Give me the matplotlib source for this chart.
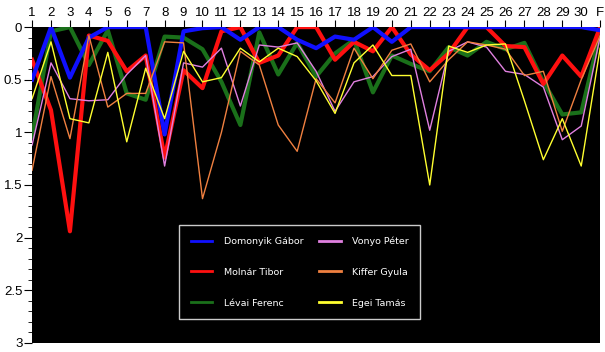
import numpy as np
import matplotlib.pyplot as plt
from matplotlib.ticker import MultipleLocator, FormatStrFormatter

rounds = [str(i) for i in range(1, 31)] + ['F']

domonyik = [0.5, 0, 0.48, 0.1, 0, 0, 0, 1.02, 0.04, 0.01, 0, 0.12, 0, 0, 0.12, 0.2,
            0.09, 0.12, 0, 0.14, 0, 0, 0, 0, 0, 0, 0, 0, 0, 0, 0.03]
molnar = [0.31, 0.79, 1.94, 0.08, 0.13, 0.42, 0.27, 1.24, 0.41, 0.58, 0.04, 0.0, 0.34, 0.27,
          0, 0, 0.31, 0.14, 0.23, 0, 0.26, 0.41, 0.25, 0, 0, 0.18, 0.19, 0.54, 0.27, 0.47, 0]
levai = [1.04, 0.04, 0.0, 0.36, 0.03, 0.63, 0.69, 0.09, 0.1, 0.21, 0.52, 0.93, 0.05, 0.45,
         0.15, 0.47, 0.25, 0.12, 0.62, 0.27, 0.35, 0.42, 0.19, 0.27, 0.14, 0.21, 0.15, 0.52,
         0.83, 0.81, 0.06]
vonyo = [1.12, 0.34, 0.68, 0.7, 0.69, 0.45, 0.27, 1.32, 0.34, 0.38, 0.2, 0.75, 0.17, 0.19,
         0.15, 0.42, 0.8, 0.52, 0.47, 0.28, 0.21, 0.98, 0.23, 0.14, 0.19, 0.42, 0.45, 0.57,
         1.07, 0.94, 0.09]
kiffer = [1.36, 0.47, 1.06, 0.08, 0.76, 0.63, 0.63, 0.14, 0.15, 1.63, 1.0, 0.23, 0.36, 0.93,
          1.18, 0.49, 0.72, 0.2, 0.49, 0.22, 0.16, 0.52, 0.31, 0.14, 0.17, 0.21, 0.46, 0.42,
          0.99, 0.5, 0.08]
egei = [0.68, 0.14, 0.87, 0.91, 0.24, 1.09, 0.39, 0.87, 0.23, 0.52, 0.48, 0.2, 0.33, 0.2,
        0.28, 0.51, 0.82, 0.34, 0.17, 0.46, 0.46, 1.5, 0.18, 0.24, 0.17, 0.16, 0.7, 1.26,
        0.87, 1.32, 0.2]

x = np.arange(1, len(rounds) + 1)

fig = plt.figure(figsize=(6.05, 3.52), dpi=100)
ax = fig.add_axes([0.053, 0.026, 0.939, 0.897])
ax.set_facecolor('black')

ax.plot(x, levai, color='#1a701a', lw=3, label='Lévai Ferenc')
ax.plot(x, molnar, color='#ff1010', lw=3, label='Molnár Tibor')
ax.plot(x, domonyik, color='#1010ff', lw=3, label='Domonyik Gábor')
ax.plot(x, vonyo, color='#e080e0', lw=1, label='Vonyo Péter')
ax.plot(x, kiffer, color='#f08040', lw=1, label='Kiffer Gyula')
ax.plot(x, egei, color='#ffff30', lw=1, label='Egei Tamás')

ax.set_xlim(1, 31)
ax.set_ylim(3, 0)
ax.xaxis.tick_top()
ax.set_xticks(x)
ax.set_xticklabels(rounds, fontsize=9.5, family='Liberation Sans')
ax.yaxis.set_major_locator(MultipleLocator(0.5))
ax.yaxis.set_minor_locator(MultipleLocator(0.1))
ax.yaxis.set_major_formatter(FormatStrFormatter('%g'))
ax.tick_params(axis='y', which='major', length=6, labelsize=9.5, pad=1)
ax.tick_params(axis='y', which='minor', length=3)
ax.tick_params(axis='x', length=5, pad=1)
for lab in ax.get_yticklabels():
    lab.set_family('Liberation Sans')
for s in ax.spines.values():
    s.set_visible(False)

# legend order: column by column
h, l = ax.get_legend_handles_labels()
order = [2, 1, 0, 3, 4, 5]
leg = ax.legend([h[i] for i in order], [l[i] for i in order], ncol=2,
                loc='lower left', bbox_to_anchor=(0.259, 0.076),
                fontsize=6.8, frameon=True, fancybox=False,
                facecolor='black', edgecolor='white', labelcolor='white',
                handlelength=2.3, handletextpad=1.2, labelspacing=2.3,
                columnspacing=1.7, borderpad=1.2, borderaxespad=0)
leg.get_frame().set_linewidth(1)
for line in leg.get_lines():
    line.set_linewidth(2)

fig.savefig('out.png', dpi=100)
